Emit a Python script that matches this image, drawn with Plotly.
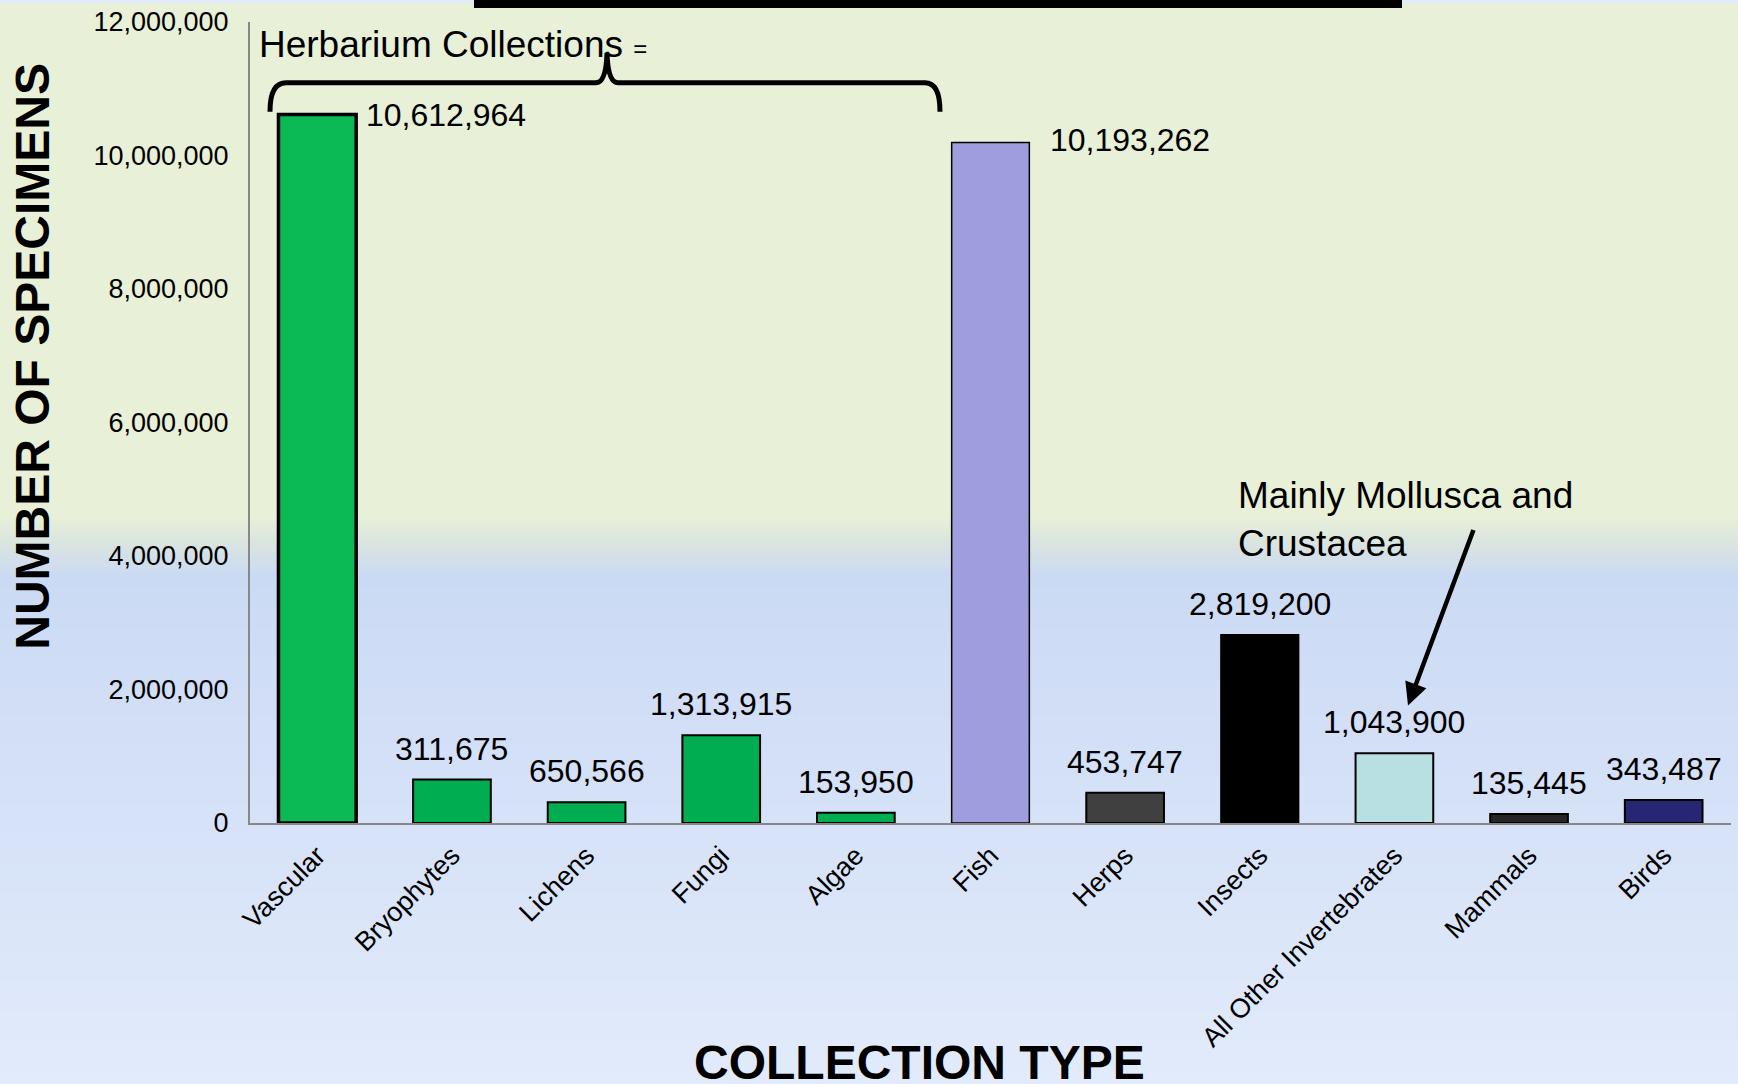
import base64, struct, zlib
import plotly.graph_objects as go

categories = ["Vascular", "Bryophytes", "Lichens", "Fungi", "Algae", "Fish",
              "Herps", "Insects", "All Other Invertebrates", "Mammals", "Birds"]
values = [10612964, 650566, 311675, 1313915, 153950, 10193262,
          453747, 2819200, 1043900, 135445, 343487]
label_text = ["10,612,964", "311,675", "650,566", "1,313,915", "153,950", "10,193,262",
              "453,747", "2,819,200", "1,043,900", "135,445", "343,487"]
bar_colors = ["#0BB955", "#00AD50", "#00AD50", "#00AD50", "#00AD50", "#9E9EDE",
              "#404040", "#000000", "#B8DFE1", "#262626", "#262673"]
line_widths = [3.5, 2, 2, 2, 2, 1.5, 2, 1.5, 2, 2, 2]
y_tickvals = [0, 2000000, 4000000, 6000000, 8000000, 10000000, 12000000]
y_ticktext = ["0", "2,000,000", "4,000,000", "6,000,000", "8,000,000", "10,000,000", "12,000,000"]

FONT = "Liberation Sans, Arial, sans-serif"
FW, FH = 1738, 1084
L, R, T, B = 250, 1731, 19, 823
W, H = R - L, B - T


def px(x):
    return (x - L) / W


def py(y):
    return (B - y) / H


# ---------- background gradient as an inline PNG ----------
def hex2rgb(h):
    h = h.lstrip("#")
    return tuple(int(h[i:i + 2], 16) for i in (0, 2, 4))


stops = [(0, "#E8F0D8"), (515, "#E8F0D8"), (545, "#D8E3E2"), (575, "#CBDAF4"),
         (700, "#D1DEF6"), (1084, "#E2EBFB")]


def color_at(y):
    for (y0, c0), (y1, c1) in zip(stops[:-1], stops[1:]):
        if y0 <= y <= y1:
            t = 0 if y1 == y0 else (y - y0) / (y1 - y0)
            a, b = hex2rgb(c0), hex2rgb(c1)
            return tuple(int(round(a[i] + (b[i] - a[i]) * t)) for i in range(3))
    return hex2rgb(stops[-1][1])


def make_png(h):
    raw = b"".join(b"\x00" + bytes(color_at(y)) * 2 for y in range(h))

    def chunk(tag, data):
        c = tag + data
        return struct.pack(">I", len(data)) + c + struct.pack(">I", zlib.crc32(c) & 0xFFFFFFFF)

    png = b"\x89PNG\r\n\x1a\n"
    png += chunk(b"IHDR", struct.pack(">IIBBBBB", 2, h, 8, 2, 0, 0, 0))
    png += chunk(b"IDAT", zlib.compress(raw, 9))
    png += chunk(b"IEND", b"")
    return "data:image/png;base64," + base64.b64encode(png).decode()


fig = go.Figure()
fig.add_trace(go.Bar(
    x=categories, y=values,
    marker=dict(color=bar_colors, line=dict(color="black", width=line_widths)),
    width=0.577, hoverinfo="x+y", showlegend=False,
))

annotations = []
side_labels = {"Vascular": (47, 0), "Fish": (57, 3)}
for cat, val, txt in zip(categories, values, label_text):
    if cat in side_labels:
        xs, ys = side_labels[cat]
        annotations.append(dict(x=cat, y=val, text=txt, showarrow=False, xanchor="left",
                                yanchor="middle", xshift=xs, yshift=ys,
                                font=dict(size=32, color="black", family=FONT)))
    else:
        annotations.append(dict(x=cat, y=val, text=txt, showarrow=False, xanchor="center",
                                yanchor="middle", yshift=31,
                                font=dict(size=32, color="black", family=FONT)))

annotations += [
    dict(xref="paper", yref="paper", x=px(257), y=py(42), xanchor="left", yanchor="middle",
         text="Herbarium Collections <span style='font-size:24px'>=</span>", showarrow=False,
         font=dict(size=37, color="black", family=FONT)),
    dict(xref="paper", yref="paper", x=px(1236), y=py(518), xanchor="left", yanchor="middle",
         align="left", text="Mainly Mollusca and<br>Crustacea", showarrow=False,
         font=dict(size=37, color="black", family=FONT)),
    dict(xref="paper", yref="paper", x=px(1408), y=py(705), text="", showarrow=True,
         ax=66, ay=-177, arrowhead=2, arrowsize=1, arrowwidth=4.5, arrowcolor="black",
         standoff=0),
    dict(xref="paper", yref="paper", x=px(919), y=py(1063), xanchor="center", yanchor="middle",
         text="<b>COLLECTION TYPE</b>", showarrow=False,
         font=dict(size=48, color="black", family=FONT)),
    dict(xref="paper", yref="paper", x=px(33), y=py(355), xanchor="center", yanchor="middle",
         text="<b>NUMBER OF SPECIMENS</b>", textangle=-90, showarrow=False,
         font=dict(size=48, color="black", family=FONT)),
]


def pt(x, y):
    return f"{px(x):.5f},{py(y):.5f}"


brace = (f"M {pt(270,109)} Q {pt(270,80)} {pt(286,80)} L {pt(596,80)} "
         f"Q {pt(606,80)} {pt(607,50)} Q {pt(608,80)} {pt(618,80)} "
         f"L {pt(925,80)} Q {pt(940,80)} {pt(940,109)}")

shapes = [
    dict(type="path", xref="paper", yref="paper", path=brace,
         line=dict(color="black", width=5), layer="above"),
    dict(type="rect", xref="paper", yref="paper", x0=px(474), x1=px(1402),
         y0=py(5), y1=py(-3), fillcolor="black", line=dict(width=0), layer="above"),
]

fig.update_layout(
    width=FW, height=FH,
    margin=dict(l=L, r=FW - R, t=T, b=FH - B, pad=0),
    paper_bgcolor="#E2EBFB", plot_bgcolor="rgba(0,0,0,0)",
    font=dict(family=FONT, color="black"),
    bargap=0.42,
    annotations=annotations, shapes=shapes,
    images=[dict(source=make_png(FH), xref="paper", yref="paper", x=px(0), y=py(0),
                 sizex=FW / W, sizey=FH / H, xanchor="left", yanchor="top",
                 sizing="stretch", layer="below")],
    xaxis=dict(showgrid=False, showline=True, linecolor="#888888", linewidth=2,
               ticks="outside", ticklen=4, tickcolor="rgba(0,0,0,0)", tickangle=-45,
               tickfont=dict(size=27, family=FONT, color="black"), zeroline=False,
               fixedrange=True),
    yaxis=dict(range=[0, 12000000], showgrid=False, showline=True, linecolor="#888888",
               linewidth=2, tickvals=y_tickvals, ticktext=y_ticktext, ticks="outside",
               ticklen=14, tickcolor="rgba(0,0,0,0)",
               tickfont=dict(size=27, family=FONT, color="black"), zeroline=False,
               fixedrange=True),
)

fig.write_html("out.html",
               config={"displayModeBar": False},
               post_script="document.body.style.margin='0';"
                           "document.body.style.background='#E2EBFB';"
                           "document.body.style.overflow='hidden';")
